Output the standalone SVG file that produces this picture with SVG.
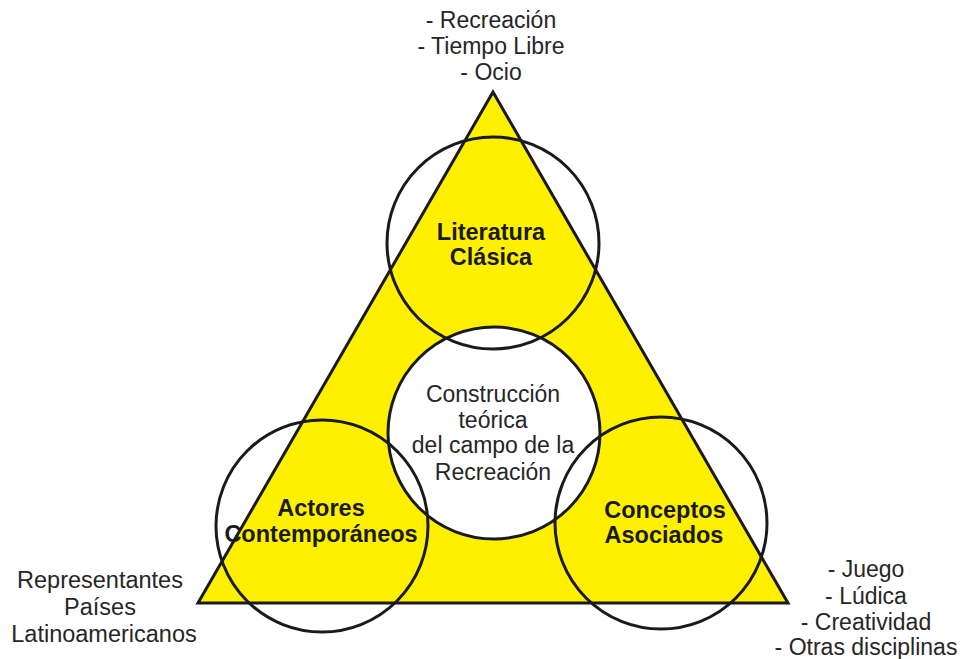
<svg xmlns="http://www.w3.org/2000/svg" width="962" height="659" viewBox="0 0 962 659">
<style>
.t{font-family:"Liberation Sans",Arial,sans-serif;font-size:23px;fill:#262626;text-anchor:middle}
.l{font-size:23.5px}
.b{font-family:"Liberation Sans",Arial,sans-serif;font-size:23.5px;font-weight:bold;fill:#1a1a1a;text-anchor:middle}
.ring{fill:none;stroke:#1a1a1a;stroke-width:3}
</style>
<rect width="962" height="659" fill="#ffffff"/>
<g id="triangle">
<polygon points="493,92 198,603 788,603" fill="#FFF000" stroke="#1a1a1a" stroke-width="3" stroke-linejoin="miter"/>
</g>
<g id="connectors"></g>
<g id="centro">
<circle cx="494" cy="433" r="106" fill="#ffffff"/>
</g>
<g id="literatura">
<circle class="ring" cx="493" cy="243" r="106"/>
<text class="b" x="491" y="240">Literatura</text>
<text class="b" x="491" y="265">Clásica</text>
</g>
<g id="actores">
<circle class="ring" cx="322" cy="526" r="106"/>
<text class="b" x="321" y="516">Actores</text>
<text class="b" x="321" y="542">Contemporáneos</text>
</g>
<g id="conceptos">
<circle class="ring" cx="661" cy="523" r="106"/>
<text class="b" x="665" y="518">Conceptos</text>
<text class="b" x="664" y="543">Asociados</text>
</g>
<g id="centro-ring">
<circle class="ring" cx="494" cy="433" r="106"/>
<text class="t" x="493" y="402">Construcción</text>
<text class="t" x="493" y="428">teórica</text>
<text class="t" x="493" y="453">del campo de la</text>
<text class="t" x="493" y="480">Recreación</text>
</g>
<g id="top-labels">
<text class="t" x="491" y="28">- Recreación</text>
<text class="t" x="491" y="54">- Tiempo Libre</text>
<text class="t" x="491" y="80">- Ocio</text>
</g>
<g id="left-labels">
<text class="t l" x="100" y="588">Representantes</text>
<text class="t l" x="100" y="615">Países</text>
<text class="t l" x="104" y="642">Latinoamericanos</text>
</g>
<g id="right-labels">
<text class="t" x="866" y="577">- Juego</text>
<text class="t" x="866" y="604">- Lúdica</text>
<text class="t" x="866" y="630">- Creatividad</text>
<text class="t" x="866" y="655">- Otras disciplinas</text>
</g>
</svg>
